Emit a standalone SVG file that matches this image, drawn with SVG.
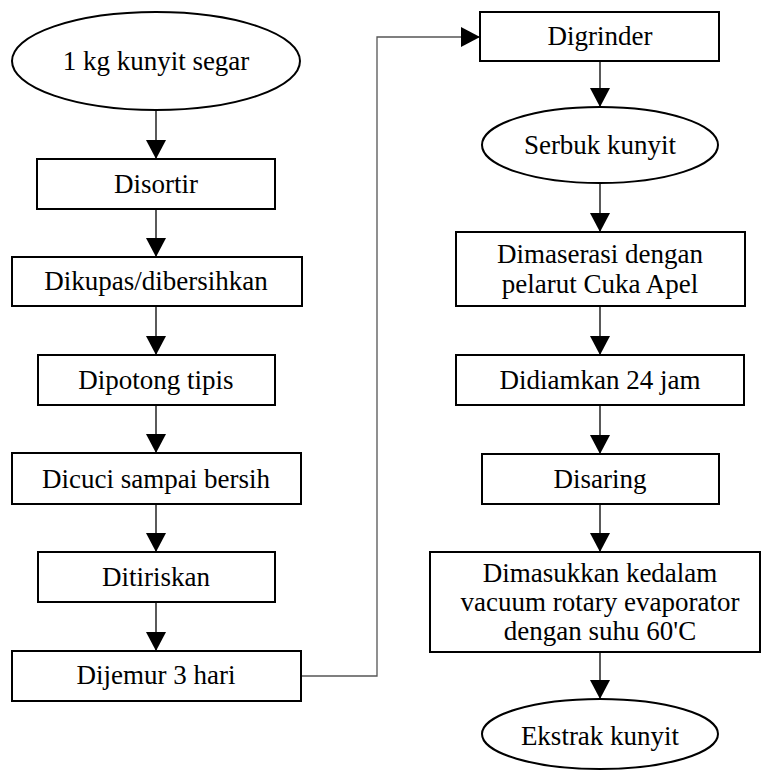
<svg xmlns="http://www.w3.org/2000/svg" width="761" height="771" viewBox="0 0 761 771">
<style>
.n{fill:#fff;stroke:#000;stroke-width:2}
.t{font-family:"Liberation Serif","Times New Roman","DejaVu Serif",serif;font-size:27px;fill:#000;text-anchor:middle}
.c{fill:none;stroke:#000;stroke-width:1.3}
.w{fill:none;stroke:#555;stroke-width:1.3}
</style>
<defs>
<marker id="a" markerUnits="userSpaceOnUse" markerWidth="20" markerHeight="20" viewBox="0 0 20 20" refX="19" refY="10" orient="auto">
<path d="M0,0 L19,10 L0,20 Z" fill="#000"/>
</marker>
</defs>
<rect width="761" height="771" fill="#fff"/>
<g id="connectors">
<line class="c" x1="156" y1="110" x2="156" y2="159" marker-end="url(#a)"/>
<line class="c" x1="156" y1="209" x2="156" y2="257" marker-end="url(#a)"/>
<line class="c" x1="156" y1="306" x2="156" y2="355" marker-end="url(#a)"/>
<line class="c" x1="156" y1="405" x2="156" y2="453" marker-end="url(#a)"/>
<line class="c" x1="156" y1="504" x2="156" y2="552" marker-end="url(#a)"/>
<line class="c" x1="156" y1="602" x2="156" y2="651" marker-end="url(#a)"/>
<polyline class="w" points="301,676 377,676 377,37 480,37" marker-end="url(#a)"/>
<line class="c" x1="600" y1="61" x2="600" y2="107" marker-end="url(#a)"/>
<line class="c" x1="600" y1="183" x2="600" y2="232" marker-end="url(#a)"/>
<line class="c" x1="600" y1="306" x2="600" y2="355" marker-end="url(#a)"/>
<line class="c" x1="600" y1="405" x2="600" y2="454" marker-end="url(#a)"/>
<line class="c" x1="600" y1="504" x2="600" y2="552" marker-end="url(#a)"/>
<line class="c" x1="600" y1="652" x2="600" y2="699" marker-end="url(#a)"/>
</g>
<g id="n1"><ellipse class="n" cx="156" cy="61" rx="144" ry="49"/><text class="t" x="156" y="70">1 kg kunyit segar</text></g>
<g id="n2"><rect class="n" x="37" y="159" width="238" height="50"/><text class="t" x="156" y="193">Disortir</text></g>
<g id="n3"><rect class="n" x="12" y="257" width="290" height="49"/><text class="t" x="156" y="290">Dikupas/dibersihkan</text></g>
<g id="n4"><rect class="n" x="38" y="355" width="237" height="50"/><text class="t" x="156" y="389">Dipotong tipis</text></g>
<g id="n5"><rect class="n" x="12" y="453" width="289" height="51"/><text class="t" x="156" y="488">Dicuci sampai bersih</text></g>
<g id="n6"><rect class="n" x="38" y="552" width="237" height="50"/><text class="t" x="156" y="586">Ditiriskan</text></g>
<g id="n7"><rect class="n" x="12" y="651" width="289" height="50"/><text class="t" x="156" y="684">Dijemur 3 hari</text></g>
<g id="n8"><rect class="n" x="480" y="12" width="239" height="49"/><text class="t" x="600" y="45">Digrinder</text></g>
<g id="n9"><ellipse class="n" cx="600" cy="145" rx="118" ry="38"/><text class="t" x="600" y="154">Serbuk kunyit</text></g>
<g id="n10"><rect class="n" x="456" y="232" width="289" height="74"/><text class="t" x="600" y="263">Dimaserasi dengan</text><text class="t" x="600" y="293">pelarut Cuka Apel</text></g>
<g id="n11"><rect class="n" x="456" y="355" width="288" height="50"/><text class="t" x="600" y="389">Didiamkan 24 jam</text></g>
<g id="n12"><rect class="n" x="482" y="454" width="237" height="50"/><text class="t" x="600" y="488">Disaring</text></g>
<g id="n13"><rect class="n" x="430" y="552" width="330" height="100"/><text class="t" x="600" y="582">Dimasukkan kedalam</text><text class="t" x="600" y="611">vacuum rotary evaporator</text><text class="t" x="600" y="640">dengan suhu 60'C</text></g>
<g id="n14"><ellipse class="n" cx="600" cy="734" rx="118" ry="35"/><text class="t" x="600" y="745">Ekstrak kunyit</text></g>
</svg>
